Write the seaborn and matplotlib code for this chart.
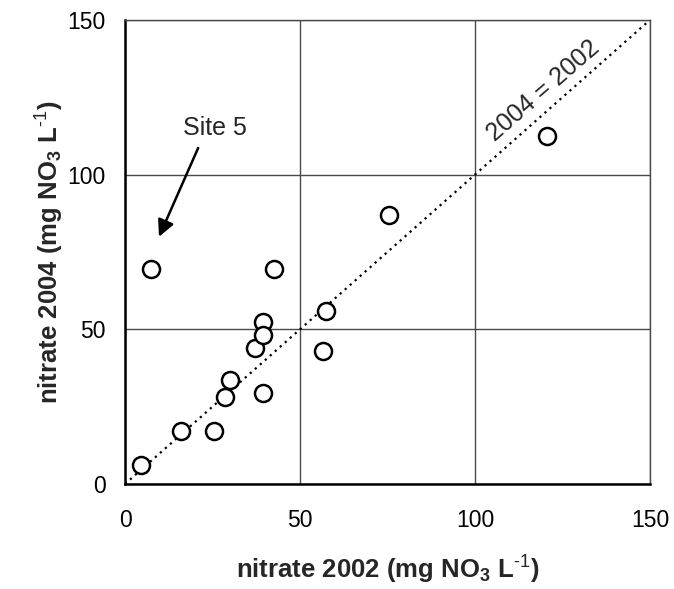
import matplotlib
matplotlib.use("Agg")
import matplotlib.pyplot as plt
import seaborn as sns
import pandas as pd

# nitrate measured at the sites in 2002 and 2004 (mg NO3 per L)
nitrate_2002 = [4.5, 7.5, 16, 25.5, 28.5, 30, 37, 39.5, 39.5, 39.5, 42.5, 56.5, 57.5, 75.5, 120.5]
nitrate_2004 = [6, 69.5, 17, 17, 28, 33.5, 44, 52.5, 48, 29.5, 69.5, 43, 56, 87, 112.5]

# 1:1 reference line ends
one_to_one = [0, 150]
ticks = [0, 50, 100, 150]

df = pd.DataFrame({"n2002": nitrate_2002, "n2004": nitrate_2004})

sns.set_theme(style="white")
plt.rcParams["font.family"] = ["Liberation Sans", "DejaVu Sans"]
plt.rcParams["mathtext.fontset"] = "custom"
plt.rcParams["mathtext.rm"] = "Liberation Sans"
plt.rcParams["mathtext.bf"] = "Liberation Sans:bold"
plt.rcParams["mathtext.default"] = "bf"

fig = plt.figure(figsize=(6.74, 5.89), dpi=100)
ax = fig.add_axes([0.1855, 0.1783, 0.779, 0.788])

ax.grid(True, color="#4a4a4a", linewidth=1.0)
ax.set_axisbelow(True)

ax.plot(one_to_one, one_to_one, linestyle=(0, (1, 2)), color="black", linewidth=1.6)

sns.scatterplot(data=df, x="n2002", y="n2004", ax=ax, marker="o", s=150,
                facecolor="white", edgecolor="black", linewidth=1.8, zorder=3)

ax.set_xlim(0, 150)
ax.set_ylim(0, 150)
ax.set_xticks(ticks)
ax.set_yticks(ticks)
ax.tick_params(direction="inout", length=8, width=1.2, labelsize=16.5, colors="black")
ax.tick_params(axis="x", pad=14)
ax.tick_params(axis="y", pad=10)

for side in ["left", "bottom", "right", "top"]:
    ax.spines[side].set_color("black")
ax.spines["left"].set_linewidth(1.8)
ax.spines["bottom"].set_linewidth(1.8)
ax.spines["right"].set_linewidth(1.0)
ax.spines["top"].set_linewidth(1.0)
ax.spines["right"].set_color("#4a4a4a")
ax.spines["top"].set_color("#4a4a4a")

ax.set_xlabel(r"nitrate 2002 (mg NO$_3$ L$^{\text{-1}}$)", fontsize=18.5, fontweight="bold", labelpad=16)
ax.set_ylabel(r"nitrate 2004 (mg NO$_3$ L$^{\text{-1}}$)", fontsize=18.5, fontweight="bold", labelpad=1)

ax.text(119.4, 127, "2004 = 2002", rotation=41, fontsize=18,
        ha="center", va="center", rotation_mode="anchor")

ax.text(25.7, 115, "Site 5", fontsize=18, ha="center", va="center")
ax.annotate("", xy=(9.7, 79.9), xytext=(20.9, 108.6),
            arrowprops=dict(arrowstyle="-|>", color="black", lw=1.8,
                            mutation_scale=25, shrinkA=0, shrinkB=0))

fig.savefig("out.png", dpi=100)
